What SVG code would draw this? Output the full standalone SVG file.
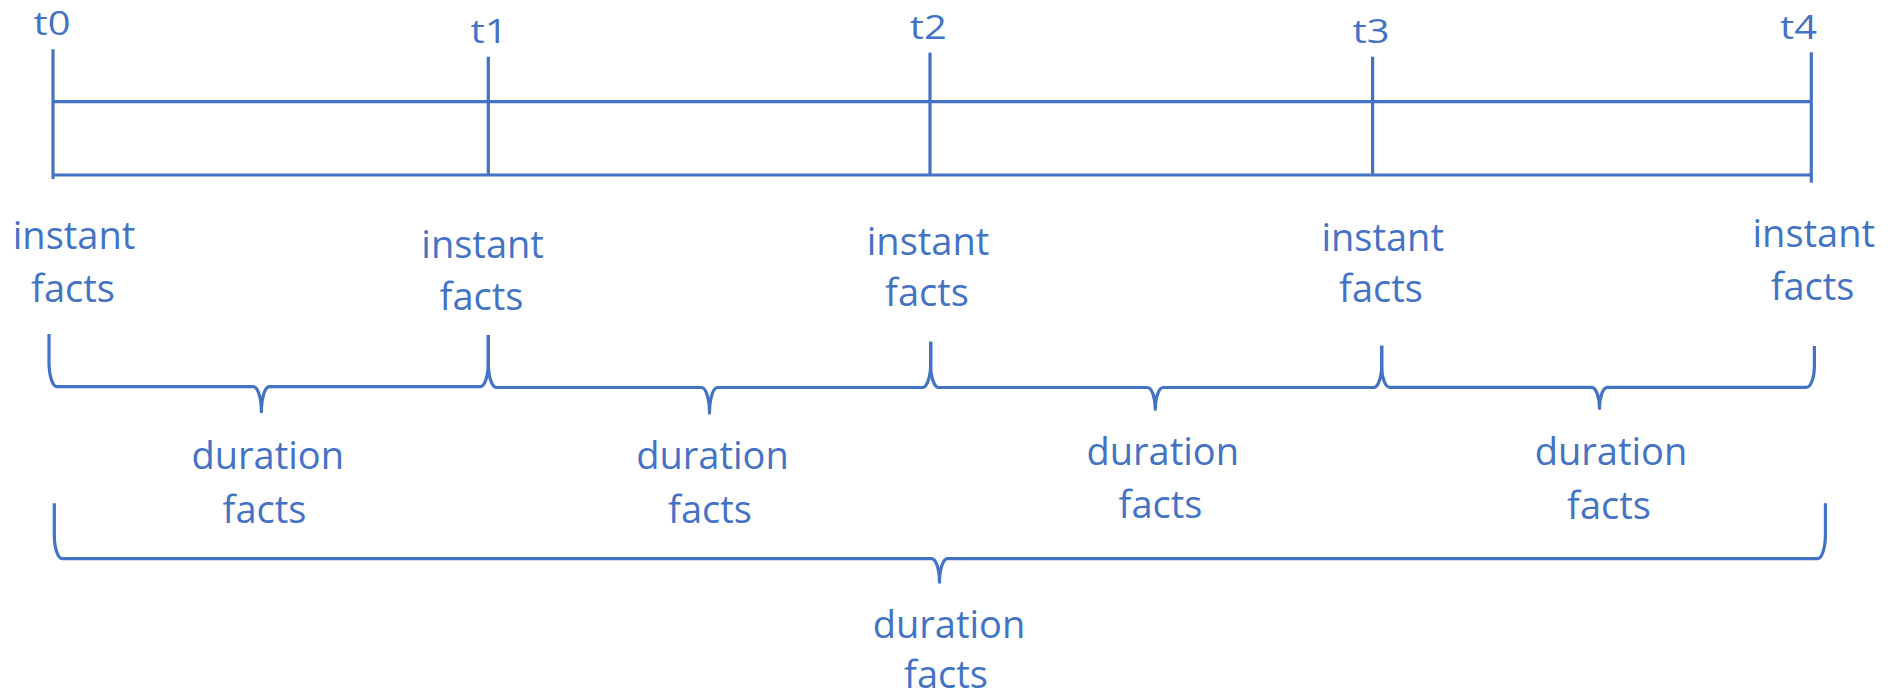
<svg xmlns="http://www.w3.org/2000/svg" width="1893" height="697" viewBox="0 0 1893 697">
  <style>
    .ln { stroke: #4472C4; stroke-width: 3.2; fill: none; }
    .br { stroke: #4472C4; stroke-width: 3.2; fill: none; stroke-linejoin: round; }
    .lbl { font-family: "Open Sans", "Noto Sans", "Liberation Sans", sans-serif; fill: #4472C4; text-anchor: middle; }
    .tick { font-size: 33px; }
    .big { font-size: 38px; }
  </style>

  <!-- timeline frame and ticks -->
  <g id="connectors">
    <line class="ln" x1="53" y1="101.7" x2="1811.3" y2="101.7"/>
    <line class="ln" x1="53" y1="175" x2="1811.3" y2="175"/>
    <line class="ln" x1="53" y1="49.3" x2="53" y2="179"/>
    <line class="ln" x1="488.3" y1="56.7" x2="488.3" y2="175"/>
    <line class="ln" x1="930" y1="52.7" x2="930" y2="175"/>
    <line class="ln" x1="1372.6" y1="56.7" x2="1372.6" y2="175"/>
    <line class="ln" x1="1811.3" y1="52.3" x2="1811.3" y2="182.7"/>

    <!-- braces spanning each interval -->
    <path class="br" d="M49,334 V362 A8 24.7 0 0 0 57,386.7 H253.4 A8 25 0 0 1 261.4,411.7 A8 25 0 0 1 269.4,386.7 H480.3 A8 24.7 0 0 0 488.3,362 V335"/>
    <path class="br" d="M488.3,335 V363 A8 24.5 0 0 0 496.3,387.5 H701.5 A8 25.5 0 0 1 709.5,413 A8 25.5 0 0 1 717.5,387.5 H922.7 A8 24.5 0 0 0 930.7,363 V341.7"/>
    <path class="br" d="M930.7,341.7 V365 A8 22.5 0 0 0 938.7,387.5 H1147.3 A8 21.8 0 0 1 1155.3,409.3 A8 21.8 0 0 1 1163.3,387.5 H1373.7 A8 22.5 0 0 0 1381.7,365 V345.7"/>
    <path class="br" d="M1381.7,345.7 V366 A8 21.3 0 0 0 1389.7,387.3 H1591.5 A8 21 0 0 1 1599.5,408.3 A8 21 0 0 1 1607.5,387.3 H1806.4 A8 21.3 0 0 0 1814.4,366 V346"/>
    <!-- overall brace -->
    <path class="br" d="M54.3,503.3 V535 A8 23.7 0 0 0 62.3,558.7 H931.5 A8 23.5 0 0 1 939.5,582.2 A8 23.5 0 0 1 947.5,558.7 H1817.4 A8 23.7 0 0 0 1825.4,535 V503.3"/>
  </g>

  <!-- time point labels -->
  <g id="t0"><text class="lbl tick" x="52" y="35" textLength="37" lengthAdjust="spacingAndGlyphs">t0</text></g>
  <g id="t1"><text class="lbl tick" x="489" y="42.7" textLength="37" lengthAdjust="spacingAndGlyphs">t1</text></g>
  <g id="t2"><text class="lbl tick" x="928.3" y="39.3" textLength="37" lengthAdjust="spacingAndGlyphs">t2</text></g>
  <g id="t3"><text class="lbl tick" x="1371" y="42.7" textLength="37" lengthAdjust="spacingAndGlyphs">t3</text></g>
  <g id="t4"><text class="lbl tick" x="1798.6" y="39.3" textLength="37" lengthAdjust="spacingAndGlyphs">t4</text></g>

  <!-- instant facts at each point -->
  <g id="instant0" class="lbl big">
    <text x="74" y="249.3">instant</text>
    <text x="73" y="301.7">facts</text>
  </g>
  <g id="instant1" class="lbl big">
    <text x="482.6" y="258.3">instant</text>
    <text x="481.5" y="310">facts</text>
  </g>
  <g id="instant2" class="lbl big">
    <text x="928" y="255">instant</text>
    <text x="927" y="306">facts</text>
  </g>
  <g id="instant3" class="lbl big">
    <text x="1382.7" y="251">instant</text>
    <text x="1381" y="301.7">facts</text>
  </g>
  <g id="instant4" class="lbl big">
    <text x="1813.8" y="247.3">instant</text>
    <text x="1812.6" y="300">facts</text>
  </g>

  <!-- duration facts for each interval -->
  <g id="duration1" class="lbl big">
    <text x="267.8" y="469.3">duration</text>
    <text x="264.5" y="523.3">facts</text>
  </g>
  <g id="duration2" class="lbl big">
    <text x="712.5" y="469">duration</text>
    <text x="710" y="523">facts</text>
  </g>
  <g id="duration3" class="lbl big">
    <text x="1162.7" y="465">duration</text>
    <text x="1160.5" y="518.3">facts</text>
  </g>
  <g id="duration4" class="lbl big">
    <text x="1611" y="465">duration</text>
    <text x="1609" y="519">facts</text>
  </g>
  <g id="durationAll" class="lbl big">
    <text x="949" y="638.3">duration</text>
    <text x="946" y="688">facts</text>
  </g>
</svg>
